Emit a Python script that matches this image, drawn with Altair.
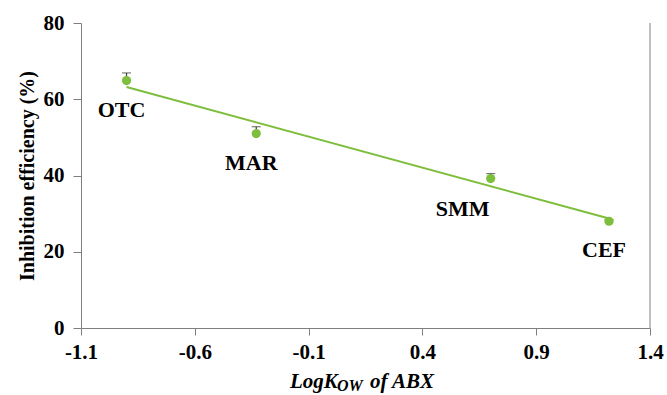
import altair as alt
import pandas as pd

names = ["OTC", "MAR", "SMM", "CEF"]
logkow = [-0.90, -0.33, 0.70, 1.22]
inhib = [64.9, 51.0, 39.2, 28.0]
err = [2.0, 1.8, 1.3, 0.4]
x_ticks = [-1.1, -0.6, -0.1, 0.4, 0.9, 1.4]
y_ticks = [0, 20, 40, 60, 80]

df = pd.DataFrame({"name": names, "x": logkow, "y": inhib,
                   "ytop": [a + b for a, b in zip(inhib, err)]})

GREEN = "#7DBE3C"
AXC = "#7F7F7F"
FONT = "Liberation Serif"

xs = alt.Scale(domain=[-1.1, 1.4], nice=False, zero=False)
ys = alt.Scale(domain=[0, 80], nice=False)

base = alt.Chart(df)

xax = alt.Axis(values=x_ticks, grid=False, title=None,
               labelExpr="replace(format(datum.value, '.1f'), '\u2212', '-')",
               labelFont=FONT, labelFontWeight="bold", labelFontSize=21,
               labelColor="#000", domainColor=AXC, tickColor=AXC,
               tickSize=7, labelPadding=6, labelFlush=False)
yax = alt.Axis(values=y_ticks, grid=False, title="Inhibition efficiency (%)",
               titleFont=FONT, titleFontWeight="bold", titleFontSize=20,
               titleColor="#000", titlePadding=6,
               labelFont=FONT, labelFontWeight="bold", labelFontSize=21,
               labelColor="#000", domainColor=AXC, tickColor=AXC,
               tickSize=8, labelPadding=9)

errbar = base.mark_rule(color="#404040", strokeWidth=1.2).encode(
    x=alt.X("x:Q", scale=xs, axis=xax), y=alt.Y("y:Q", scale=ys, axis=yax), y2="ytop:Q")
caps = base.mark_tick(color="#404040", thickness=1.2, size=9, orient="horizontal").encode(
    x=alt.X("x:Q", scale=xs), y=alt.Y("ytop:Q", scale=ys))

trend = base.transform_regression("x", "y").mark_line(color=GREEN, strokeWidth=2).encode(
    x=alt.X("x:Q", scale=xs), y=alt.Y("y:Q", scale=ys))

pts = base.mark_circle(color=GREEN, opacity=1, size=85).encode(
    x=alt.X("x:Q", scale=xs), y=alt.Y("y:Q", scale=ys))

lab_main = base.transform_filter(alt.datum.name != "SMM").mark_text(
    font=FONT, fontWeight="bold", fontSize=22, color="#000", dy=29, dx=-5).encode(
    x=alt.X("x:Q", scale=xs), y=alt.Y("y:Q", scale=ys), text="name:N")
lab_smm = base.transform_filter(alt.datum.name == "SMM").mark_text(
    font=FONT, fontWeight="bold", fontSize=22, color="#000", dy=30, dx=-28).encode(
    x=alt.X("x:Q", scale=xs), y=alt.Y("y:Q", scale=ys), text="name:N")

right_border = alt.Chart(pd.DataFrame({"x": [1.4]})).mark_rule(color=AXC).encode(
    x=alt.X("x:Q", scale=xs), y=alt.value(0), y2=alt.value(305))

t1 = alt.Chart(pd.DataFrame({"t": ["LogK"]})).mark_text(
    font=FONT, fontWeight="bold", fontStyle="italic", fontSize=21, align="left",
    baseline="alphabetic", color="#000").encode(
    x=alt.value(209), y=alt.value(365), text="t:N")
t2 = alt.Chart(pd.DataFrame({"t": ["OW"]})).mark_text(
    font=FONT, fontWeight="bold", fontStyle="italic", fontSize=16, align="left",
    baseline="alphabetic", color="#000").encode(
    x=alt.value(256), y=alt.value(368), text="t:N")
t3 = alt.Chart(pd.DataFrame({"t": ["of ABX"]})).mark_text(
    font=FONT, fontWeight="bold", fontStyle="italic", fontSize=21, align="left",
    baseline="alphabetic", color="#000").encode(
    x=alt.value(289), y=alt.value(365), text="t:N")

chart = alt.layer(errbar, caps, trend, pts, lab_main, lab_smm, right_border, t1, t2, t3).properties(
    width=569, height=305,
    padding={"left": 81, "top": 23, "right": 17, "bottom": 67},
    autosize=alt.AutoSizeParams(type="none"),
).configure_view(stroke=None)

chart.save("out.html", embed_options={"renderer": "svg", "actions": False})
